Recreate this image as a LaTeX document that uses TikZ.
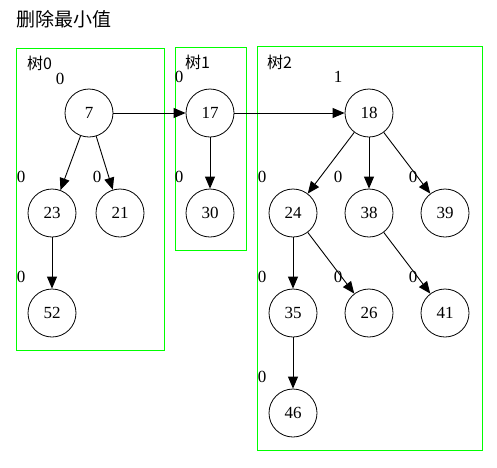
\documentclass[tikz,border=0pt]{standalone}
\usepackage{fontspec}
\setmainfont{Liberation Serif}
\newfontfamily\cjk{Noto Sans CJK SC}
\usetikzlibrary{arrows.meta}
\begin{document}
\begin{tikzpicture}[x=1pt,y=-1pt,
    heapnode/.style={circle,draw,line width=0.8pt,minimum size=48pt,inner sep=0pt,font=\fontsize{17}{19}\selectfont},
    degree/.style={inner sep=0pt,font=\fontsize{17}{19}\selectfont},
    treebox/.style={draw=green,line width=1.2pt},
    treename/.style={inner sep=0pt,anchor=west,font=\cjk\fontsize{16}{18}\selectfont},
    link/.style={line width=0.9pt,-{Triangle[length=12pt,width=10pt]}}]
\useasboundingbox (0,0) rectangle (497,467);

\node[inner sep=0pt,anchor=west,font=\cjk\fontsize{19}{21}\selectfont] (title) at (16,19) {删除最小值};

% the three tree frames
\draw[treebox] (16.5,48.5) rectangle (164.5,350.5);
\draw[treebox] (175.5,47.5) rectangle (246.5,250.5);
\draw[treebox] (257.5,46.5) rectangle (482.5,450.5);
\node[treename] (t0) at (27,63) {树0};
\node[treename] (t1) at (185,62) {树1};
\node[treename] (t2) at (267,62) {树2};

% nodes
\node[heapnode] (n7)  at (89,113)  {7};
\node[heapnode] (n23) at (52,213)  {23};
\node[heapnode] (n21) at (120,213) {21};
\node[heapnode] (n52) at (52,313)  {52};
\node[heapnode] (n17) at (210,113) {17};
\node[heapnode] (n30) at (210,213) {30};
\node[heapnode] (n18) at (369,113) {18};
\node[heapnode] (n24) at (293,213) {24};
\node[heapnode] (n38) at (369,213) {38};
\node[heapnode] (n39) at (445,213) {39};
\node[heapnode] (n35) at (293,313) {35};
\node[heapnode] (n26) at (369,313) {26};
\node[heapnode] (n41) at (445,313) {41};
\node[heapnode] (n46) at (293,413) {46};

% degrees
\node[degree] (d7)  at (60,79)  {0};
\node[degree] (d23) at (21,177) {0};
\node[degree] (d21) at (97,177) {0};
\node[degree] (d52) at (21,277) {0};
\node[degree] (d17) at (179,77) {0};
\node[degree] (d30) at (179,177) {0};
\node[degree] (d18) at (338,77) {1};
\node[degree] (d24) at (262,177) {0};
\node[degree] (d38) at (338,177) {0};
\node[degree] (d39) at (413,177) {0};
\node[degree] (d35) at (262,277) {0};
\node[degree] (d26) at (338,277) {0};
\node[degree] (d41) at (413,277) {0};
\node[degree] (d46) at (262,377) {0};

% links
\draw[link] (n7) -- (n17);
\draw[link] (n17) -- (n18);
\draw[link] (n7) -- (n23);
\draw[link] (n7) -- (n21);
\draw[link] (n23) -- (n52);
\draw[link] (n17) -- (n30);
\draw[link] (n18) -- (n24);
\draw[link] (n18) -- (n38);
\draw[link] (n18) -- (n39);
\draw[link] (n24) -- (n35);
\draw[link] (n24) -- (n26);
\draw[link] (n38) -- (n41);
\draw[link] (n35) -- (n46);

\end{tikzpicture}
\end{document}
